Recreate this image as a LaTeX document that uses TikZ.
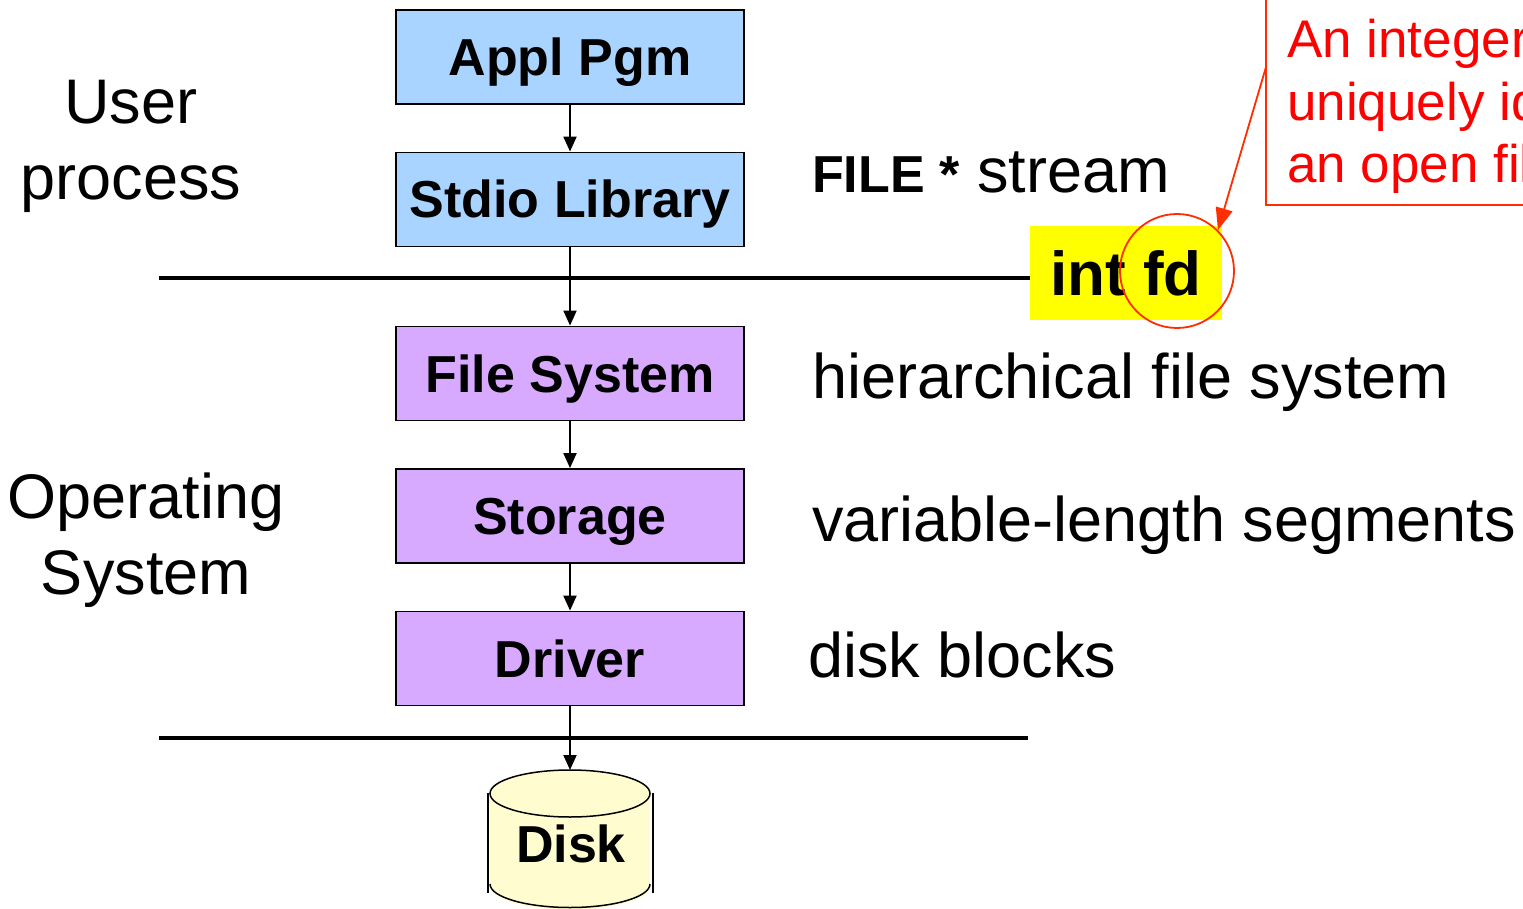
\documentclass[tikz,border=0pt]{standalone}
\usepackage{fontspec}
\setmainfont{Liberation Sans}
\usetikzlibrary{arrows.meta}
\definecolor{bluefill}{RGB}{168,212,255}
\definecolor{purfill}{RGB}{216,170,255}
\definecolor{diskfill}{RGB}{255,253,208}
\definecolor{hiyellow}{RGB}{255,255,0}
\definecolor{notered}{RGB}{255,0,0}
\definecolor{edgered}{RGB}{255,45,0}
\tikzset{
  x=1pt, y=1pt,
  layerbox/.style={draw=black, line width=1.8pt, minimum width=348pt, minimum height=94pt,
    inner sep=0pt, font=\fontsize{52}{60}\selectfont\bfseries, text height=37pt, text depth=0pt},
  bluebox/.style={layerbox, fill=bluefill},
  purbox/.style={layerbox, fill=purfill},
  arr/.style={line width=2pt, -{Triangle[length=15pt,width=13pt]}},
  sepline/.style={line width=3.6pt},
  biglabel/.style={font=\fontsize{63}{76}\selectfont, inner sep=0pt, align=center},
  sidelabel/.style={font=\fontsize{63}{76}\selectfont, inner sep=0pt, anchor=base west},
  notetext/.style={text=notered, font=\fontsize{53}{62.5}\selectfont, inner sep=0pt, anchor=base west, align=left},
  redarr/.style={draw=edgered, line width=1.8pt, -{Triangle[length=22pt,width=17pt]}}
}
\begin{document}
\begin{tikzpicture}
\useasboundingbox (0,0) rectangle (1523,-909);
\begin{scope}
\clip (0,0) rectangle (1523,-909);

% left labels
\node[biglabel] (user) at (131,-146) {User\\process};
\node[biglabel] (os) at (146,-540) {Operating\\System};

% separator lines
\coordinate (la) at (159,-278);
\coordinate (lb) at (1031,-278);
\coordinate (lc) at (159,-738);
\coordinate (ld) at (1028,-738);
\draw[sepline] (la) -- (lb);
\draw[sepline] (lc) -- (ld);

% layer boxes
\node[bluebox] (appl) at (570,-57) {Appl Pgm};
\node[bluebox] (stdio) at (570,-199.5) {Stdio Library};
\node[purbox] (fs) at (570,-373.5) {File System};
\node[purbox] (stor) at (570,-516) {Storage};
\node[purbox] (drv) at (570,-658.5) {Driver};

% disk
\fill[diskfill] (490,-793.5) -- (490,-886)
  arc[start angle=180,end angle=360,x radius=80,y radius=23.5]
  -- (650,-793.5)
  arc[start angle=0,end angle=180,x radius=80,y radius=23.5] -- cycle;
\draw[line width=1.5pt] (570,-793.5) ellipse [x radius=80,y radius=23.5];
\draw[line width=1.5pt] (490,-884) arc[start angle=180,end angle=360,x radius=80,y radius=23.5];
\draw[line width=1.5pt] (488,-793) -- (488,-893);
\draw[line width=1.5pt] (653,-793) -- (653,-893);
\coordinate (disktop) at (570,-770);
\node[font=\fontsize{52}{60}\selectfont\bfseries, inner sep=0pt, anchor=base] (disk) at (571,-862) {Disk};

% connectors
\draw[arr] (appl) -- (stdio);
\draw[arr] (stdio) -- (fs);
\draw[arr] (fs) -- (stor);
\draw[arr] (stor) -- (drv);
\draw[arr] (drv) -- (disktop);

% right labels
\node[sidelabel] (file) at (812,-193) {{\fontsize{52}{60}\selectfont\bfseries FILE *} stream};
\node[sidelabel] (hfs) at (812,-398) {hierarchical file system};
\node[sidelabel] (vls) at (812,-541) {variable-length segments};
\node[sidelabel] (dbl) at (808,-677) {disk blocks};

% int fd
\node[fill=hiyellow, minimum width=192pt, minimum height=94pt, inner sep=0pt,
  font=\fontsize{62}{70}\selectfont\bfseries, text height=45pt, text depth=0pt] (fdbox) at (1126,-273) {int fd};
\node[draw=edgered, line width=1.8pt, circle, minimum size=114pt, inner sep=0pt] (fdc) at (1177,-271) {};

% annotation
\draw[draw=edgered, line width=1.6pt] (1266,10) -- (1266,-205) -- (1600,-205);
\node[notetext] (note) at (1287,-183) {An integer\\uniquely identifies\\an open file};
\coordinate (ntail) at (1266,-67);
\draw[redarr] (ntail) -- (fdc.north east);
\end{scope}
\end{tikzpicture}
\end{document}
